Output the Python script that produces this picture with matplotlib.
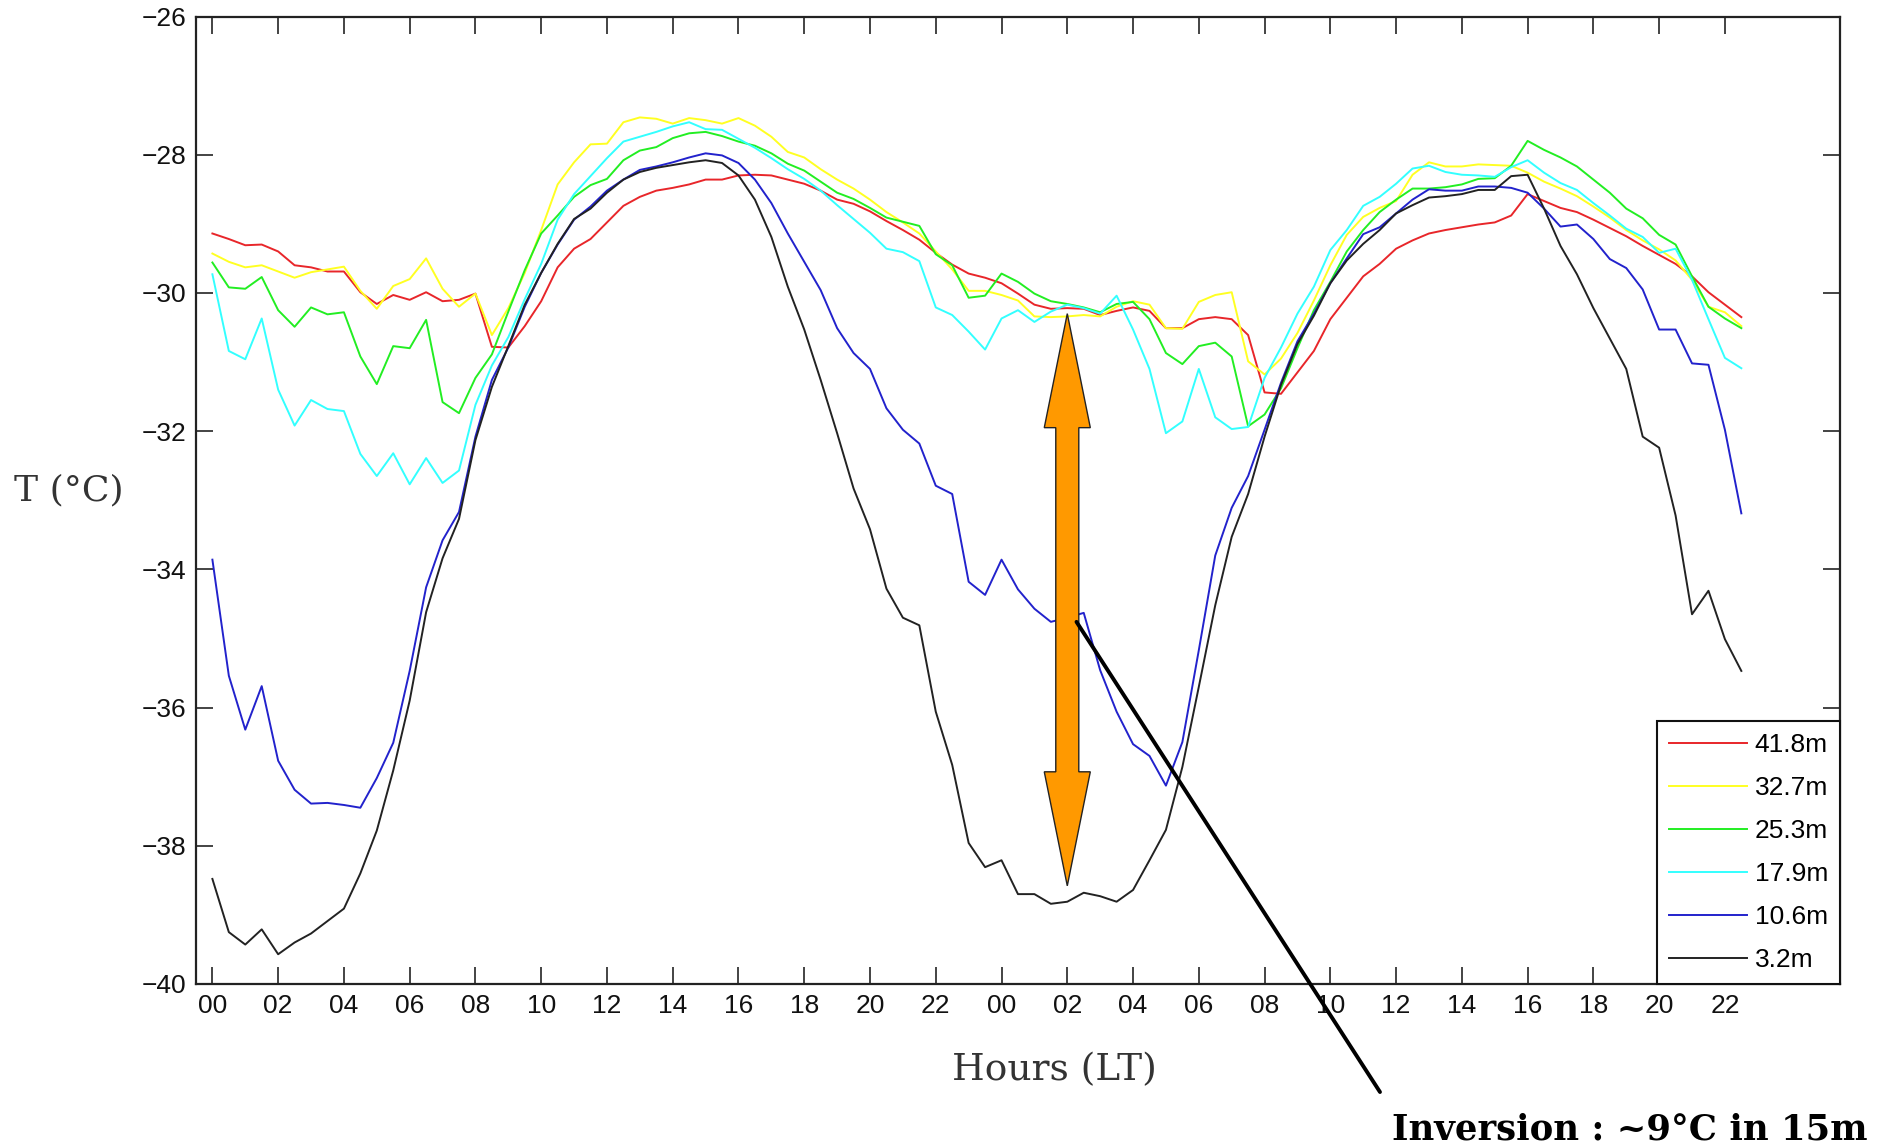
import numpy as np
import matplotlib
matplotlib.use("Agg")
import matplotlib.pyplot as plt
from matplotlib.patches import Polygon, ConnectionPatch

# half-hourly temperatures, hour 0 .. 46.5
hours = np.arange(0, 47, 0.5)

t_418 = [-29.14, -29.22, -29.31, -29.30, -29.40, -29.60, -29.63, -29.69, -29.69, -29.99,
         -30.16, -30.03, -30.10, -29.99, -30.12, -30.10, -30.01, -30.78, -30.79, -30.48,
         -30.12, -29.63, -29.36, -29.22, -28.98, -28.74, -28.61, -28.52, -28.48, -28.43,
         -28.36, -28.36, -28.30, -28.29, -28.30, -28.36, -28.42, -28.52, -28.65, -28.71,
         -28.82, -28.96, -29.09, -29.23, -29.42, -29.59, -29.72, -29.78, -29.86, -30.01,
         -30.17, -30.23, -30.22, -30.23, -30.32, -30.26, -30.21, -30.26, -30.51, -30.51,
         -30.38, -30.35, -30.38, -30.61, -31.44, -31.46, -31.15, -30.84, -30.38, -30.07,
         -29.76, -29.58, -29.36, -29.24, -29.14, -29.09, -29.05, -29.01, -28.98, -28.88,
         -28.57, -28.67, -28.77, -28.83, -28.94, -29.06, -29.18, -29.32, -29.45, -29.58,
         -29.76, -29.99, -30.17, -30.35]

t_327 = [-29.43, -29.55, -29.63, -29.60, -29.69, -29.78, -29.70, -29.66, -29.62, -29.97,
         -30.23, -29.90, -29.80, -29.50, -29.94, -30.20, -30.01, -30.61, -30.22, -29.71,
         -29.09, -28.43, -28.11, -27.85, -27.84, -27.53, -27.46, -27.48, -27.55, -27.47,
         -27.50, -27.55, -27.47, -27.58, -27.74, -27.96, -28.04, -28.21, -28.36, -28.49,
         -28.65, -28.83, -28.98, -29.14, -29.40, -29.66, -29.97, -29.97, -30.03, -30.11,
         -30.34, -30.35, -30.34, -30.32, -30.34, -30.20, -30.12, -30.17, -30.51, -30.52,
         -30.13, -30.03, -29.99, -30.99, -31.18, -30.95, -30.58, -30.11, -29.60, -29.16,
         -28.90, -28.77, -28.67, -28.29, -28.11, -28.17, -28.17, -28.14, -28.15, -28.16,
         -28.26, -28.39, -28.49, -28.60, -28.75, -28.91, -29.09, -29.24, -29.37, -29.53,
         -29.81, -30.20, -30.28, -30.48]

t_253 = [-29.56, -29.92, -29.94, -29.77, -30.25, -30.49, -30.21, -30.31, -30.28, -30.92,
         -31.32, -30.77, -30.80, -30.39, -31.58, -31.74, -31.23, -30.89, -30.27, -29.67,
         -29.14, -28.88, -28.61, -28.44, -28.35, -28.08, -27.94, -27.89, -27.76, -27.69,
         -27.67, -27.73, -27.81, -27.87, -27.98, -28.13, -28.23, -28.39, -28.55, -28.64,
         -28.77, -28.91, -28.97, -29.03, -29.44, -29.60, -30.07, -30.04, -29.72, -29.84,
         -30.01, -30.12, -30.16, -30.21, -30.28, -30.16, -30.13, -30.38, -30.87, -31.03,
         -30.77, -30.72, -30.92, -31.93, -31.76, -31.38, -30.80, -30.25, -29.84, -29.40,
         -29.09, -28.83, -28.65, -28.49, -28.49, -28.47, -28.43, -28.35, -28.34, -28.16,
         -27.80, -27.93, -28.04, -28.17, -28.36, -28.55, -28.78, -28.92, -29.16, -29.30,
         -29.76, -30.20, -30.37, -30.51]

t_179 = [-29.73, -30.84, -30.96, -30.37, -31.40, -31.92, -31.55, -31.68, -31.71, -32.33,
         -32.65, -32.32, -32.77, -32.39, -32.75, -32.57, -31.62, -31.05, -30.64, -30.09,
         -29.58, -28.94, -28.57, -28.31, -28.05, -27.81, -27.74, -27.67, -27.59, -27.53,
         -27.63, -27.64, -27.77, -27.90, -28.05, -28.21, -28.35, -28.52, -28.73, -28.93,
         -29.13, -29.36, -29.41, -29.54, -30.21, -30.32, -30.56, -30.82, -30.37, -30.25,
         -30.42, -30.27, -30.17, -30.22, -30.30, -30.04, -30.53, -31.10, -32.03, -31.86,
         -31.10, -31.80, -31.97, -31.94, -31.23, -30.79, -30.30, -29.91, -29.38, -29.09,
         -28.74, -28.61, -28.42, -28.20, -28.16, -28.25, -28.29, -28.30, -28.32, -28.18,
         -28.08, -28.26, -28.41, -28.51, -28.70, -28.88, -29.07, -29.19, -29.42, -29.36,
         -29.81, -30.38, -30.94, -31.09]

t_106 = [-33.86, -35.54, -36.32, -35.69, -36.77, -37.19, -37.39, -37.38, -37.41, -37.45,
         -37.02, -36.51, -35.47, -34.26, -33.58, -33.17, -32.08, -31.26, -30.79, -30.20,
         -29.71, -29.30, -28.94, -28.75, -28.52, -28.36, -28.22, -28.17, -28.11, -28.04,
         -27.98, -28.01, -28.12, -28.36, -28.70, -29.14, -29.55, -29.96, -30.51, -30.87,
         -31.10, -31.67, -31.98, -32.18, -32.79, -32.91, -34.18, -34.37, -33.86, -34.29,
         -34.57, -34.76, -34.70, -34.63, -35.46, -36.06, -36.53, -36.70, -37.13, -36.50,
         -35.17, -33.80, -33.11, -32.65, -31.98, -31.30, -30.70, -30.30, -29.86, -29.50,
         -29.15, -29.05, -28.85, -28.65, -28.50, -28.52, -28.52, -28.46, -28.46, -28.48,
         -28.55, -28.78, -29.04, -29.01, -29.22, -29.51, -29.64, -29.95, -30.53, -30.53,
         -31.02, -31.04, -31.98, -33.19]

t_32 = [-38.48, -39.25, -39.43, -39.21, -39.57, -39.40, -39.27, -39.09, -38.91, -38.40,
        -37.78, -36.91, -35.90, -34.62, -33.84, -33.27, -32.13, -31.36, -30.77, -30.17,
        -29.71, -29.29, -28.93, -28.78, -28.55, -28.36, -28.25, -28.19, -28.15, -28.11,
        -28.08, -28.12, -28.30, -28.65, -29.19, -29.91, -30.53, -31.26, -32.03, -32.83,
        -33.42, -34.28, -34.70, -34.81, -36.06, -36.83, -37.96, -38.31, -38.21, -38.70,
        -38.70, -38.84, -38.81, -38.68, -38.73, -38.81, -38.64, -38.21, -37.77, -36.86,
        -35.70, -34.52, -33.53, -32.91, -32.08, -31.33, -30.74, -30.33, -29.86, -29.53,
        -29.29, -29.09, -28.85, -28.73, -28.62, -28.60, -28.57, -28.51, -28.51, -28.31,
        -28.29, -28.78, -29.32, -29.73, -30.22, -30.66, -31.10, -32.08, -32.24, -33.22,
        -34.65, -34.31, -35.01, -35.47]

series = [t_418, t_327, t_253, t_179, t_106, t_32]
heights = ['41.8m', '32.7m', '25.3m', '17.9m', '10.6m', '3.2m']
colors = ['#e8262a', '#ffff22', '#22ee22', '#33ffff', '#2222cc', '#222222']

xticks = np.arange(0, 47, 2)
xticklabels = ['%02d' % (h % 24) for h in xticks]

# annotation: inversion at 02h on the second night
arrow_x = 26.0
arrow_top, arrow_bot = -30.3, -38.58
inv_start = (26.28, -34.76)

fig = plt.figure(figsize=(18.86, 11.46), dpi=100)
ax = fig.add_axes([0.1039, 0.1414, 0.8717, 0.8442])

for vals, lab, c in zip(series, heights, colors):
    ax.plot(hours, vals, color=c, lw=1.4, label=lab)

ax.set_xlim(-0.5, 49.5)
ax.set_ylim(-40, -26)
ax.set_xticks(xticks)
ax.set_xticklabels(xticklabels)
ax.set_yticks(np.arange(-40, -25, 2))
ax.tick_params(direction='in', length=12, width=1.1, top=True, right=True,
               labelsize=19, pad=7, colors='#111111')
for lab in ax.get_xticklabels() + ax.get_yticklabels():
    lab.set_family('Liberation Sans')
for s in ax.spines.values():
    s.set_linewidth(1.6)
    s.set_color('#222222')

leg = ax.legend(loc='lower right', borderaxespad=0, fancybox=False, frameon=True,
                prop={'family': 'Liberation Sans', 'size': 19}, handlelength=2.95,
                labelspacing=0.72, borderpad=0.45, handletextpad=0.3)
leg.get_frame().set_edgecolor('#111111')
leg.get_frame().set_linewidth(1.5)
leg.get_frame().set_alpha(1)

# orange double-headed arrow
hw, sw, hl = 0.70, 0.35, 1.65
pts = [(arrow_x, arrow_top), (arrow_x + hw, arrow_top - hl), (arrow_x + sw, arrow_top - hl),
       (arrow_x + sw, arrow_bot + hl), (arrow_x + hw, arrow_bot + hl), (arrow_x, arrow_bot),
       (arrow_x - hw, arrow_bot + hl), (arrow_x - sw, arrow_bot + hl), (arrow_x - sw, arrow_top - hl),
       (arrow_x - hw, arrow_top - hl)]
ax.add_patch(Polygon(pts, closed=True, facecolor='#ff9900', edgecolor='#222222', lw=1.0, zorder=5))

con = ConnectionPatch(xyA=inv_start, coordsA='data', axesA=ax, xyB=(0.7317, 0.0471),
                      coordsB='figure fraction', color='black', lw=2.8, zorder=6)
fig.add_artist(con)

fig.text(0.0366, 0.5716, 'T (°C)', family='DejaVu Serif', fontsize=26, color='#333333',
         ha='center', va='center')
fig.text(0.5589, 0.0663, 'Hours (LT)', family='DejaVu Serif', fontsize=27, color='#333333',
         ha='center', va='center')
fig.text(0.990, 0.006, 'Inversion : ~9°C in 15m', family='DejaVu Serif', fontsize=25.5,
         fontweight='bold', color='black', ha='right', va='baseline')

fig.savefig('out.png', dpi=100)
